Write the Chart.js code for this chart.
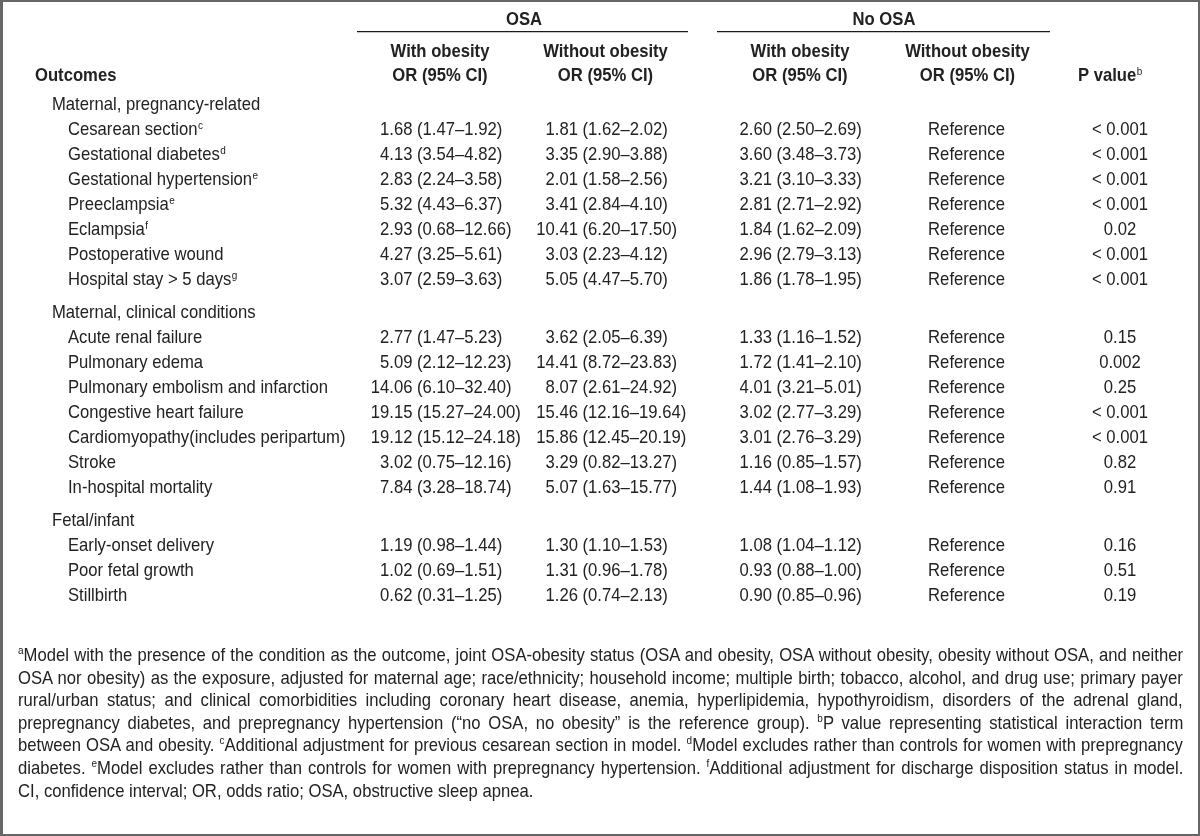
<!DOCTYPE html>
<html><head><meta charset="utf-8">
<script src="https://cdn.jsdelivr.net/npm/chart.js@4.4.1/dist/chart.umd.min.js"></script>
<style>
html,body{margin:0;padding:0;background:#fff;}
#wrap{position:relative;width:1200px;height:836px;overflow:hidden;background:#fff;}
#c{position:absolute;left:0;top:0;}
#frame{position:absolute;left:0;top:0;width:1200px;height:836px;box-sizing:border-box;border:2px solid #666;border-left-width:3px;pointer-events:none;}
#notes{position:absolute;left:18px;top:644px;color:#222;transform-origin:0 0;}
#notes .ln{white-space:nowrap;}
#notes .ln span{display:inline-block;white-space:nowrap;}
#notes sup{font-size:11px;line-height:0;vertical-align:baseline;position:relative;top:-7px;}
</style></head>
<body>
<div id="wrap">
<canvas id="c" width="1200" height="836"></canvas>
<div id="notes"></div>
<div id="frame"></div>
</div>
<script>
// ---------- DATA ----------
const sections = ["Maternal, pregnancy-related", "Maternal, clinical conditions", "Fetal/infant"];
const outcomes = ["Cesarean section", "Gestational diabetes", "Gestational hypertension", "Preeclampsia",
  "Eclampsia", "Postoperative wound", "Hospital stay > 5 days",
  "Acute renal failure", "Pulmonary edema", "Pulmonary embolism and infarction", "Congestive heart failure",
  "Cardiomyopathy(includes peripartum)", "Stroke", "In-hospital mortality",
  "Early-onset delivery", "Poor fetal growth", "Stillbirth"];
const outcomeSection = [0,0,0,0,0,0,0, 1,1,1,1,1,1,1, 2,2,2];
const outcomeNote = ["c","d","e","e","f","","g", "","","","","","","", "","",""];

const osaObeseOR = [1.68,4.13,2.83,5.32,2.93,4.27,3.07, 2.77,5.09,14.06,19.15,19.12,3.02,7.84, 1.19,1.02,0.62];
const osaObeseLo = [1.47,3.54,2.24,4.43,0.68,3.25,2.59, 1.47,2.12,6.10,15.27,15.12,0.75,3.28, 0.98,0.69,0.31];
const osaObeseHi = [1.92,4.82,3.58,6.37,12.66,5.61,3.63, 5.23,12.23,32.40,24.00,24.18,12.16,18.74, 1.44,1.51,1.25];

const osaLeanOR = [1.81,3.35,2.01,3.41,10.41,3.03,5.05, 3.62,14.41,8.07,15.46,15.86,3.29,5.07, 1.30,1.31,1.26];
const osaLeanLo = [1.62,2.90,1.58,2.84,6.20,2.23,4.47, 2.05,8.72,2.61,12.16,12.45,0.82,1.63, 1.10,0.96,0.74];
const osaLeanHi = [2.02,3.88,2.56,4.10,17.50,4.12,5.70, 6.39,23.83,24.92,19.64,20.19,13.27,15.77, 1.53,1.78,2.13];

const noOsaObeseOR = [2.60,3.60,3.21,2.81,1.84,2.96,1.86, 1.33,1.72,4.01,3.02,3.01,1.16,1.44, 1.08,0.93,0.90];
const noOsaObeseLo = [2.50,3.48,3.10,2.71,1.62,2.79,1.78, 1.16,1.41,3.21,2.77,2.76,0.85,1.08, 1.04,0.88,0.85];
const noOsaObeseHi = [2.69,3.73,3.33,2.92,2.09,3.13,1.95, 1.52,2.10,5.01,3.29,3.29,1.57,1.93, 1.12,1.00,0.96];

const referenceLabel = "Reference";
const pValues = ["< 0.001","< 0.001","< 0.001","< 0.001","0.02","< 0.001","< 0.001",
  "0.15","0.002","0.25","< 0.001","< 0.001","0.82","0.91", "0.16","0.51","0.19"];

const groupHeads = ["OSA", "No OSA"];
const columnHeads = ["With obesity", "Without obesity", "With obesity", "Without obesity"];
const ciHead = "OR (95% CI)";
const outcomesHead = "Outcomes";
const pHead = "P value";
const pHeadNote = "b";

const footLines = [
  "<sup>a</sup>Model with the presence of the condition as the outcome, joint OSA-obesity status (OSA and obesity, OSA without obesity, obesity without OSA, and neither",
  "OSA nor obesity) as the exposure, adjusted for maternal age; race/ethnicity; household income; multiple birth; tobacco, alcohol, and drug use; primary payer",
  "rural/urban status; and clinical comorbidities including coronary heart disease, anemia, hyperlipidemia, hypothyroidism, disorders of the adrenal gland,",
  "prepregnancy diabetes, and prepregnancy hypertension (\u201cno OSA, no obesity\u201d is the reference group). <sup>b</sup>P value representing statistical interaction term",
  "between OSA and obesity. <sup>c</sup>Additional adjustment for previous cesarean section in model. <sup>d</sup>Model excludes rather than controls for women with prepregnancy",
  "diabetes. <sup>e</sup>Model excludes rather than controls for women with prepregnancy hypertension. <sup>f</sup>Additional adjustment for discharge disposition status in model.",
  "CI, confidence interval; OR, odds ratio; OSA, obstructive sleep apnea."
];

// ---------- FONT: taller face compressed horizontally (condensed look) ----------
const FONT = '"Liberation Sans", Arial, sans-serif';
const FS = 18.4, SX = 0.905;

// ---------- LAYOUT ----------
const INK = '#222';
const SECTION_GAP = 0.32;
const colX = [389.3, 554.8, 748.8, 966.5, 1120];
const headX = [440, 605.5, 800, 967.5];
const groupX = [524, 884];
const groupLine = [[357, 688], [717, 1050]];
const labelX = 68, sectionX = 52, outcomesX = 35, pHeadX = 1078;
const Y = { group: -3.4, line: -3.132, head1: -2.12, head2: -1.16 };

const sectionPos = [];
const rowPos = [];
(function () {
  let r = 0;
  sections.forEach((s, si) => {
    sectionPos.push(r + si * SECTION_GAP);
    r++;
    outcomes.forEach((o, i) => {
      if (outcomeSection[i] === si) { rowPos[i] = r + si * SECTION_GAP; r++; }
    });
  });
})();

const fmt = v => v.toFixed(2);
const cellText = [
  osaObeseOR.map((v, i) => `${fmt(v)} (${fmt(osaObeseLo[i])}\u2013${fmt(osaObeseHi[i])})`),
  osaLeanOR.map((v, i) => `${fmt(v)} (${fmt(osaLeanLo[i])}\u2013${fmt(osaLeanHi[i])})`),
  noOsaObeseOR.map((v, i) => `${fmt(v)} (${fmt(noOsaObeseLo[i])}\u2013${fmt(noOsaObeseHi[i])})`),
  outcomes.map(() => referenceLabel),
  pValues
];
const cellIntPart = [osaObeseOR, osaLeanOR, noOsaObeseOR].map(a => a.map(v => String(Math.floor(v))));

const datasets = cellText.map((col, c) => ({
  label: 'col' + c,
  data: outcomes.map((o, i) => ({ x: colX[c], y: rowPos[i] })),
  pointRadius: 0, pointHoverRadius: 0, showLine: false
}));

function txt(ctx, s, x, y, align) {
  ctx.save();
  ctx.translate(x, y);
  ctx.scale(SX, 1);
  ctx.textAlign = align || 'left';
  ctx.fillText(s, 0, 0);
  ctx.restore();
}
const tw = (ctx, s) => ctx.measureText(s).width * SX;

function drawSup(ctx, mainText, x, y, note, bold) {
  if (!note) return;
  const w = tw(ctx, mainText);
  const saved = ctx.font;
  ctx.font = `${bold ? 'bold ' : ''}11px ${FONT}`;
  txt(ctx, note, x + w + 0.5, y - 6.5, 'left');
  ctx.font = saved;
}

const tablePlugin = {
  id: 'tableText',
  afterDatasetsDraw(chart) {
    const ctx = chart.ctx;
    const xs = chart.scales.x, ys = chart.scales.y;
    ctx.save();
    ctx.fillStyle = INK;
    ctx.strokeStyle = '#1a1a1a';
    ctx.textBaseline = 'alphabetic';

    ctx.font = `bold ${FS}px ${FONT}`;
    groupHeads.forEach((g, i) => txt(ctx, g, xs.getPixelForValue(groupX[i]), ys.getPixelForValue(Y.group), 'center'));
    ctx.lineWidth = 1.3;
    groupLine.forEach(([a, b]) => {
      const yy = ys.getPixelForValue(Y.line);
      ctx.beginPath(); ctx.moveTo(xs.getPixelForValue(a), yy); ctx.lineTo(xs.getPixelForValue(b), yy); ctx.stroke();
    });
    columnHeads.forEach((h, i) => {
      txt(ctx, h, xs.getPixelForValue(headX[i]), ys.getPixelForValue(Y.head1), 'center');
      txt(ctx, ciHead, xs.getPixelForValue(headX[i]), ys.getPixelForValue(Y.head2), 'center');
    });
    txt(ctx, outcomesHead, xs.getPixelForValue(outcomesX), ys.getPixelForValue(Y.head2), 'left');
    txt(ctx, pHead, xs.getPixelForValue(pHeadX), ys.getPixelForValue(Y.head2), 'left');
    drawSup(ctx, pHead, xs.getPixelForValue(pHeadX), ys.getPixelForValue(Y.head2), pHeadNote, false);

    ctx.font = `${FS}px ${FONT}`;
    sections.forEach((s, i) => txt(ctx, s, xs.getPixelForValue(sectionX), ys.getPixelForValue(sectionPos[i]), 'left'));
    outcomes.forEach((o, i) => {
      const x = xs.getPixelForValue(labelX), y = ys.getPixelForValue(rowPos[i]);
      txt(ctx, o, x, y, 'left');
      drawSup(ctx, o, x, y, outcomeNote[i], false);
    });

    chart.data.datasets.forEach((ds, c) => {
      const meta = chart.getDatasetMeta(c);
      meta.data.forEach((el, i) => {
        const t = cellText[c][i];
        if (c < 3) {
          const off = tw(ctx, cellIntPart[c][i]);
          txt(ctx, t, el.x - off, el.y, 'left');
        } else {
          txt(ctx, t, el.x, el.y, 'center');
        }
      });
    });
    ctx.restore();
  }
};

new Chart(document.getElementById('c'), {
  type: 'scatter',
  data: { datasets },
  options: {
    responsive: false, animation: false, devicePixelRatio: 1,
    layout: { padding: 0 },
    events: [],
    plugins: { legend: { display: false }, tooltip: { enabled: false } },
    scales: {
      x: { type: 'linear', min: 0, max: 1200, display: false },
      y: { type: 'linear', min: -110 / 25, max: (836 - 110) / 25, reverse: true, display: false }
    }
  },
  plugins: [tablePlugin]
});

// footnotes as real text, each line justified to the block width
(function () {
  const box = document.getElementById('notes');
  box.style.fontFamily = FONT;
  box.style.fontSize = FS + 'px';
  box.style.lineHeight = '22.6px';
  box.style.transform = `scaleX(${SX})`;
  const W = 1165 / SX;
  box.style.width = W + 'px';
  footLines.forEach((html, i) => {
    const d = document.createElement('div');
    d.className = 'ln';
    d.style.height = '22.6px';
    const s = document.createElement('span');
    s.innerHTML = html;
    d.appendChild(s);
    box.appendChild(d);
    if (i < footLines.length - 1) {
      const natural = s.offsetWidth;
      const spaces = (s.textContent.match(/ /g) || []).length;
      if (spaces) s.style.wordSpacing = ((W - natural) / spaces) + 'px';
    }
  });
})();
</script>
</body></html>
